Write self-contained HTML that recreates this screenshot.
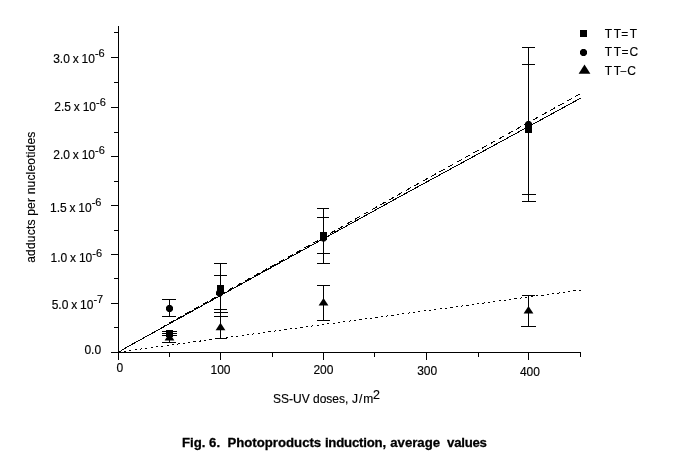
<!DOCTYPE html>
<html lang="en"><head><meta charset="utf-8"><title>Fig. 6. Photoproducts induction, average values</title>
<style>html,body{margin:0;padding:0;background:#fff;}body{width:678px;height:475px;overflow:hidden;}svg{display:block;will-change:transform;}text{font-family:"Liberation Sans",sans-serif;fill:#000;stroke:#000;stroke-width:.15px;}text.cap{stroke-width:.28px;}</style>
</head><body>
<svg width="678" height="475" viewBox="0 0 678 475">
<rect width="678" height="475" fill="#fff"/>
<g stroke="#000" stroke-width="1" fill="none" shape-rendering="crispEdges">
<line x1="118.5" y1="26" x2="118.5" y2="360"/>
<line x1="111" y1="352.5" x2="581" y2="352.5"/>
<line x1="111" y1="352.5" x2="118" y2="352.5"/>
<line x1="114" y1="327.5" x2="118" y2="327.5"/>
<line x1="111" y1="303.5" x2="118" y2="303.5"/>
<line x1="114" y1="278.5" x2="118" y2="278.5"/>
<line x1="111" y1="254.5" x2="118" y2="254.5"/>
<line x1="114" y1="230.5" x2="118" y2="230.5"/>
<line x1="111" y1="205.5" x2="118" y2="205.5"/>
<line x1="114" y1="181.5" x2="118" y2="181.5"/>
<line x1="111" y1="156.5" x2="118" y2="156.5"/>
<line x1="114" y1="132.5" x2="118" y2="132.5"/>
<line x1="111" y1="107.5" x2="118" y2="107.5"/>
<line x1="114" y1="82.5" x2="118" y2="82.5"/>
<line x1="111" y1="57.5" x2="118" y2="57.5"/>
<line x1="114" y1="32.5" x2="118" y2="32.5"/>
<line x1="118.5" y1="353" x2="118.5" y2="360"/>
<line x1="169.5" y1="353" x2="169.5" y2="357"/>
<line x1="220.5" y1="353" x2="220.5" y2="360"/>
<line x1="272.5" y1="353" x2="272.5" y2="357"/>
<line x1="323.5" y1="353" x2="323.5" y2="360"/>
<line x1="374.5" y1="353" x2="374.5" y2="357"/>
<line x1="426.5" y1="353" x2="426.5" y2="360"/>
<line x1="478.5" y1="353" x2="478.5" y2="357"/>
<line x1="528.5" y1="353" x2="528.5" y2="360"/>
<line x1="580.5" y1="353" x2="580.5" y2="357"/>
</g>
<g stroke="#000" fill="none" shape-rendering="crispEdges">
<polyline points="118.5,352.5 124.5,348.5 400,196.5 581,98" stroke-width="1"/>
<polyline points="118.5,352.5 124.5,348.5 162,327.81 165,325.26 305,247.72 400,193.7 581,93.4" stroke-width="1" stroke-dasharray="5.8 3.9"/>
<line x1="118.5" y1="352" x2="581" y2="290" stroke-width="1" stroke-dasharray="2.2 3.2"/>
</g>
<g stroke="#000" stroke-width="1" fill="none" shape-rendering="crispEdges">
<line x1="169.5" y1="299.5" x2="169.5" y2="316.5"/>
<line x1="162" y1="299.5" x2="176" y2="299.5"/>
<line x1="162" y1="316.5" x2="176" y2="316.5"/>
<line x1="169.5" y1="331.5" x2="169.5" y2="342.5"/>
<line x1="162" y1="331.5" x2="177" y2="331.5"/>
<line x1="162" y1="333.5" x2="177" y2="333.5"/>
<line x1="162" y1="335.5" x2="177" y2="335.5"/>
<line x1="162" y1="342.5" x2="176" y2="342.5"/>
<line x1="220.5" y1="263.5" x2="220.5" y2="338.5"/>
<line x1="214" y1="263.5" x2="227" y2="263.5"/>
<line x1="214" y1="275.5" x2="227" y2="275.5"/>
<line x1="214" y1="309.5" x2="227" y2="309.5"/>
<line x1="214" y1="312.5" x2="228" y2="312.5"/>
<line x1="214" y1="316.5" x2="228" y2="316.5"/>
<line x1="215" y1="338.5" x2="227" y2="338.5"/>
<line x1="323.5" y1="208.5" x2="323.5" y2="263.5"/>
<line x1="317" y1="208.5" x2="329" y2="208.5"/>
<line x1="317" y1="217.5" x2="329" y2="217.5"/>
<line x1="317" y1="253.5" x2="330" y2="253.5"/>
<line x1="317" y1="263.5" x2="330" y2="263.5"/>
<line x1="323.5" y1="285.5" x2="323.5" y2="320.5"/>
<line x1="317" y1="285.5" x2="330" y2="285.5"/>
<line x1="317" y1="320.5" x2="330" y2="320.5"/>
<line x1="528.5" y1="47.5" x2="528.5" y2="201.5"/>
<line x1="522" y1="47.5" x2="535" y2="47.5"/>
<line x1="522" y1="64.5" x2="535" y2="64.5"/>
<line x1="522" y1="194.5" x2="536" y2="194.5"/>
<line x1="522" y1="201.5" x2="536" y2="201.5"/>
<line x1="528.5" y1="295.5" x2="528.5" y2="326.5"/>
<line x1="522" y1="295.5" x2="535" y2="295.5"/>
<line x1="521" y1="326.5" x2="536" y2="326.5"/>
</g>
<g fill="#000" stroke="none">
<rect x="166.0" y="330.0" width="7" height="7" shape-rendering="crispEdges"/>
<polygon points="168.0,305.0 171.0,305.0 173.0,307.0 173.0,310.0 171.0,312.0 168.0,312.0 166.0,310.0 166.0,307.0"/>
<polygon points="169.5,333.1 174.4,340.6 164.6,340.6"/>
<rect x="217.0" y="285.0" width="7" height="7" shape-rendering="crispEdges"/>
<polygon points="218.0,289.5 221.0,289.5 223.0,291.5 223.0,294.5 221.0,296.5 218.0,296.5 216.0,294.5 216.0,291.5"/>
<polygon points="220.5,322.8 225.4,330.3 215.6,330.3"/>
<rect x="320.0" y="232.3" width="7" height="7" shape-rendering="crispEdges"/>
<polygon points="322.0,234.5 325.0,234.5 327.0,236.5 327.0,239.5 325.0,241.5 322.0,241.5 320.0,239.5 320.0,236.5"/>
<polygon points="323.5,298.0 328.4,305.5 318.6,305.5"/>
<rect x="525.0" y="126.0" width="7" height="7" shape-rendering="crispEdges"/>
<polygon points="527.0,121.0 530.0,121.0 532.0,123.0 532.0,126.0 530.0,128.0 527.0,128.0 525.0,126.0 525.0,123.0"/>
<polygon points="528.5,305.9 533.4,313.4 523.6,313.4"/>
<rect x="580.0" y="30.0" width="7" height="7" shape-rendering="crispEdges"/>
<polygon points="582.0,49.0 585.0,49.0 587.0,51.0 587.0,54.0 585.0,56.0 582.0,56.0 580.0,54.0 580.0,51.0"/>
<polygon points="584.5,64.5 590.4,73.8 578.6,73.8"/>
</g>
<text x="53.2" y="63.2" font-size="12" word-spacing="-0.5">3.0 x 10<tspan dy="-6.4" font-size="11">-6</tspan></text>
<text x="54.3" y="111" font-size="12" word-spacing="-0.5">2.5 x 10<tspan dy="-5.5" font-size="11">-6</tspan></text>
<text x="53.3" y="159" font-size="12" word-spacing="-0.5">2.0 x 10<tspan dy="-5.5" font-size="11">-6</tspan></text>
<text x="50" y="211.9" font-size="12" word-spacing="-0.5">1.5 x 10<tspan dy="-5.8" font-size="11">-6</tspan></text>
<text x="50.6" y="262.4" font-size="12" word-spacing="-0.5">1.0 x 10<tspan dy="-5.8" font-size="11">-6</tspan></text>
<text x="51.7" y="308.6" font-size="12" word-spacing="-0.5">5.0 x 10<tspan dy="-5.9" font-size="11">-7</tspan></text>
<text x="84.4" y="354.4" font-size="12">0.0</text>
<text x="116.5" y="372" font-size="12">0</text>
<text x="210.5" y="373.9" font-size="12">100</text>
<text x="313.4" y="373.9" font-size="12">200</text>
<text x="417.2" y="375.1" font-size="12">300</text>
<text x="519.9" y="376.3" font-size="12">400</text>
<text x="273" y="403" font-size="12">SS-UV doses, <tspan dx="0.3" letter-spacing="0.9">J/m</tspan><tspan dx="-1.1" dy="-4.4" font-size="12.5">2</tspan></text>
<text transform="translate(35,262.8) rotate(-90)" font-size="12" letter-spacing="0.2">adducts per nucleotides</text>
<text x="604.8 613.8 621.3 629.7" y="38" font-size="12">TT=T</text>
<text x="604.8 613.8 621.4 629.6" y="56.1" font-size="12">TT=C</text>
<text x="604.8 613.8" y="74.8" font-size="12">TT<tspan x="620.8" dy="-0.5" font-size="9.6" stroke="#000" stroke-width="0.35">–</tspan><tspan x="627.2" dy="0.5">C</tspan></text>
<text x="182" y="446.8" class="cap" font-size="13.2" font-weight="bold" xml:space="preserve">Fig. 6.  Photoproducts <tspan letter-spacing="-0.2">induction,</tspan> <tspan dx="0.7">average</tspan> <tspan dx="3.3" letter-spacing="-0.25">values</tspan></text>
</svg>
</body></html>
